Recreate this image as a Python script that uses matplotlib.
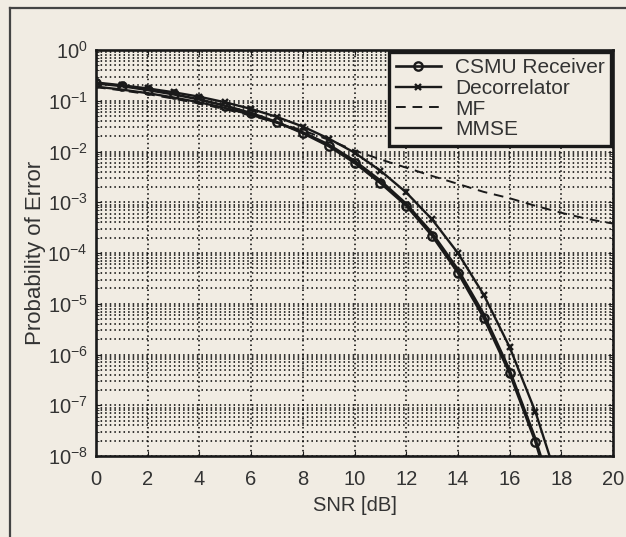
import numpy as np
import matplotlib
matplotlib.use("Agg")
import matplotlib.pyplot as plt
from matplotlib.lines import Line2D
from matplotlib.ticker import LogLocator, FixedLocator, FuncFormatter

plt.rcParams['font.family'] = ['Liberation Sans', 'DejaVu Sans']
plt.rcParams['mathtext.fontset'] = 'custom'
plt.rcParams['mathtext.rm'] = 'Liberation Sans'
plt.rcParams['mathtext.it'] = 'Liberation Sans'

# SNR in dB
snr = list(range(0, 19))
snr_mf = list(range(0, 21))

csmu = [0.22, 0.195, 0.163, 0.134, 0.106, 0.080, 0.057, 0.038, 0.023, 0.0128,
        0.0060, 0.0024, 8.6e-4, 2.2e-4, 4.1e-5, 5.3e-6, 4.3e-7, 1.9e-8, 4e-10]
decorr = [0.229, 0.202, 0.175, 0.147, 0.120, 0.093, 0.069, 0.048, 0.031, 0.018,
          0.0095, 0.0042, 0.00156, 4.6e-4, 1.0e-4, 1.5e-5, 1.4e-6, 7.4e-8, 1.9e-9]
mmse = [0.19, 0.166, 0.141, 0.116, 0.093, 0.072, 0.053, 0.037, 0.024, 0.0138,
        0.0066, 0.0027, 9.4e-4, 2.5e-4, 4.8e-5, 6.3e-6, 5.0e-7, 2.2e-8, 5e-10]
mf = [0.185, 0.16, 0.135, 0.11, 0.088, 0.068, 0.051, 0.037, 0.026, 0.017,
      0.0105, 0.0070, 0.0048, 0.0033, 0.0023, 0.0016, 0.0012, 0.00085,
      0.00062, 0.00047, 0.00038]

bg = '#f1ece3'
fig = plt.figure(figsize=(6.26, 5.37), dpi=100, facecolor=bg)
ax = fig.add_axes([96/626, 1-456/537, (613-96)/626, (456-50)/537])
ax.set_facecolor(bg)

# frame lines of the page
fig.add_artist(Line2D([10/626, 10/626], [0, 1-8/537], transform=fig.transFigure, color='#444444', lw=1.6))
fig.add_artist(Line2D([10/626, 1], [1-8/537, 1-8/537], transform=fig.transFigure, color='#444444', lw=1.6))

k = '#1a1a1a'
ax.semilogy(snr, csmu, color=k, lw=1.9, marker='o', ms=6, mfc='none', mew=1.7, label='CSMU Receiver')
ax.semilogy(snr, decorr, color=k, lw=1.7, marker='x', ms=5, mew=1.7, label='Decorrelator')
ax.semilogy(snr_mf, mf, color=k, lw=1.4, ls=(0, (5, 3.5)), label='MF')
ax.semilogy(snr, mmse, color=k, lw=1.7, label='MMSE')

ax.set_xlim(0, 20)
ax.set_ylim(1e-8, 1)
ax.xaxis.set_major_locator(FixedLocator(range(0, 21, 2)))
ax.yaxis.set_major_locator(LogLocator(base=10, numticks=20))
ax.yaxis.set_minor_locator(LogLocator(base=10, subs=np.arange(2, 10), numticks=20))
ax.yaxis.set_major_formatter(FuncFormatter(lambda v, p: r'10$^{%d}$' % round(np.log10(v))))

ax.grid(True, which='major', axis='both', color='k', ls=(0, (1, 2)), lw=1.1)
ax.grid(True, which='minor', axis='y', color='k', ls=(0, (1, 2)), lw=1.1)

ax.tick_params(which='both', direction='in', top=True, right=True, labelsize=14.5,
               colors=k, labelcolor='#333333')
ax.tick_params(axis='x', pad=10)
ax.tick_params(axis='y', pad=6)
for s in ax.spines.values():
    s.set_linewidth(1.9)
    s.set_color(k)

ax.set_xlabel('SNR [dB]', fontsize=14.5, color='#333333', labelpad=5)
ax.set_ylabel('Probability of Error', fontsize=16, color='#333333', labelpad=1)

leg = ax.legend(loc='upper right', fontsize=15, frameon=True, fancybox=False,
                borderpad=0.3, labelspacing=0.08, handlelength=2.2, handletextpad=0.65,
                borderaxespad=0.1, framealpha=1)
leg.get_frame().set_edgecolor(k)
leg.get_frame().set_linewidth(2.4)
leg.get_frame().set_facecolor(bg)
for t in leg.get_texts():
    t.set_color('#333333')

fig.savefig('out.png', dpi=100, facecolor=bg)
